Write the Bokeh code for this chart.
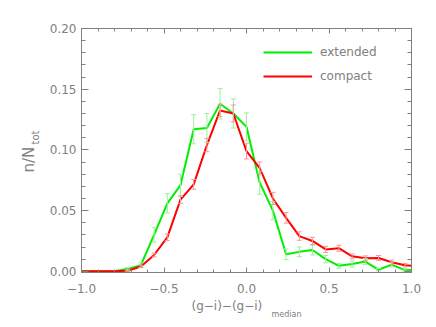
from bokeh.plotting import figure
from bokeh.models import (Range1d, LinearAxis, Legend, LegendItem, Whisker, TeeHead, Label,
                          ColumnDataSource, Title, SingleIntervalTicker, CustomJSTickFormatter)
from bokeh.embed import file_html
from bokeh.resources import INLINE

# ---- data ----
x_centers = [-1.04, -0.96, -0.88, -0.80, -0.72, -0.64, -0.56, -0.48, -0.40, -0.32, -0.24,
             -0.16, -0.08, 0.00, 0.08, 0.16, 0.24, 0.32, 0.40, 0.48, 0.56, 0.64, 0.72,
             0.80, 0.88, 0.96, 1.04]
extended = [0.0, 0.0, 0.0, 0.0, 0.002, 0.005, 0.030, 0.056, 0.071, 0.117, 0.118,
            0.138, 0.130, 0.119, 0.073, 0.050, 0.014, 0.016, 0.0175, 0.010, 0.0045, 0.006, 0.008,
            0.0013, 0.0055, 0.001, 0.0015]
extended_err = [0.0, 0.0, 0.0, 0.0, 0.001, 0.002, 0.006, 0.008, 0.009, 0.012, 0.012,
                0.0125, 0.012, 0.0115, 0.0095, 0.0075, 0.0044, 0.004, 0.004, 0.003, 0.002, 0.0025, 0.0025,
                0.001, 0.002, 0.001, 0.001]
compact = [0.0, 0.0, 0.0, 0.0, 0.0005, 0.004, 0.0134, 0.028, 0.059, 0.0716, 0.104,
           0.1325, 0.130, 0.099, 0.085, 0.060, 0.044, 0.029, 0.025, 0.018, 0.019, 0.0123, 0.0107,
           0.011, 0.0074, 0.005, 0.004]
compact_err = [0.0, 0.0, 0.0, 0.0, 0.0005, 0.001, 0.0015, 0.0027, 0.003, 0.004, 0.0055,
               0.005, 0.007, 0.0065, 0.005, 0.005, 0.0044, 0.0035, 0.003, 0.0025, 0.0025, 0.002, 0.002,
               0.002, 0.0018, 0.0015, 0.0015]
series_names = ["extended", "compact"]

GRAY = "#808080"
FONT = "DejaVu Sans"

p = figure(width=436, height=327, output_backend="svg", toolbar_location=None,
           x_range=Range1d(-1.0, 1.0), y_range=Range1d(-0.001, 0.2),
           min_border_left=81, min_border_right=25, min_border_top=28, min_border_bottom=55,
           x_axis_location=None, y_axis_location=None)
p.grid.visible = False
p.outline_line_color = GRAY
p.background_fill_color = "white"
p.border_fill_color = "white"

minus_fmt_x = CustomJSTickFormatter(code="return tick.toFixed(1).replace('-', '\u2212');")
minus_fmt_y = CustomJSTickFormatter(code="return tick.toFixed(2).replace('-', '\u2212');")


def style_axis(ax, major_in, minor_in, labels=True):
    ax.axis_line_color = GRAY
    ax.major_tick_line_color = GRAY
    ax.minor_tick_line_color = GRAY
    ax.major_tick_in = major_in
    ax.major_tick_out = 0
    ax.minor_tick_in = minor_in
    ax.minor_tick_out = 0
    ax.major_label_text_color = GRAY
    ax.major_label_text_font = FONT
    ax.major_label_text_font_size = "12px" if labels else "0px"
    if not labels:
        ax.major_label_text_alpha = 0


xb = LinearAxis(ticker=SingleIntervalTicker(interval=0.5, num_minor_ticks=5), formatter=minus_fmt_x)
style_axis(xb, 5, 3)
xb.major_label_standoff = 11
p.add_layout(xb, "below")
xt = LinearAxis(ticker=SingleIntervalTicker(interval=0.5, num_minor_ticks=5), formatter=minus_fmt_x)
style_axis(xt, 5, 3, labels=False)
p.add_layout(xt, "above")
yl = LinearAxis(ticker=SingleIntervalTicker(interval=0.05, num_minor_ticks=5), formatter=minus_fmt_y)
style_axis(yl, 7, 4)
yl.major_label_standoff = 5
p.add_layout(yl, "left")
yr = LinearAxis(ticker=SingleIntervalTicker(interval=0.05, num_minor_ticks=5), formatter=minus_fmt_y)
style_axis(yr, 7, 4, labels=False)
p.add_layout(yr, "right")


def whisker_for(vals, errs, color):
    xs = [x for x, e in zip(x_centers, errs) if e > 0]
    lo = [v - e for v, e in zip(vals, errs) if e > 0]
    hi = [v + e for v, e in zip(vals, errs) if e > 0]
    src = ColumnDataSource(dict(x=xs, lower=lo, upper=hi))
    w = Whisker(source=src, base="x", lower="lower", upper="upper",
                line_color=color, line_width=1,
                upper_head=TeeHead(size=5, line_color=color, line_width=1),
                lower_head=TeeHead(size=5, line_color=color, line_width=1))
    w.level = "glyph"
    return w

p.add_layout(whisker_for(extended, extended_err, "#9cf09c"))
p.add_layout(whisker_for(compact, compact_err, "#f49a9a"))

g_line = p.line(x_centers, extended, line_color="#00ee00", line_width=2)
r_line = p.line(x_centers, compact, line_color="#ff0000", line_width=2)

legend = Legend(items=[LegendItem(label=series_names[0], renderers=[g_line]),
                       LegendItem(label=series_names[1], renderers=[r_line])],
                location=(182, 186), orientation="vertical")
legend.border_line_alpha = 0
legend.background_fill_alpha = 0
legend.label_text_color = GRAY
legend.label_text_font = FONT
legend.label_text_font_size = "12px"
legend.glyph_width = 49
legend.glyph_height = 20
legend.label_height = 20
legend.spacing = 4
legend.label_standoff = 8
legend.padding = 0
legend.margin = 0
p.add_layout(legend)


def side_title(text, size, offset, standoff=0):
    return Title(text=text, align="left", offset=offset, standoff=standoff,
                 text_font=FONT, text_font_size=size, text_font_style="normal",
                 text_color=GRAY)

# x-axis title with subscript
p.add_layout(side_title("(g\u2212i)\u2212(g\u2212i)", "12px", 110, 2), "below")
p.add_layout(Label(x=190, y=8, x_units="screen", y_units="screen", text="median",
                   text_font=FONT, text_font_size="8px", text_color=GRAY,
                   text_align="left", text_baseline="middle"), "below")
# y-axis title with subscript
p.add_layout(side_title("tot", "10px", 128, 12), "left")
p.add_layout(side_title("n/N", "15px", 100, -32), "left")

open("out.html", "w").write(file_html(p, INLINE))
